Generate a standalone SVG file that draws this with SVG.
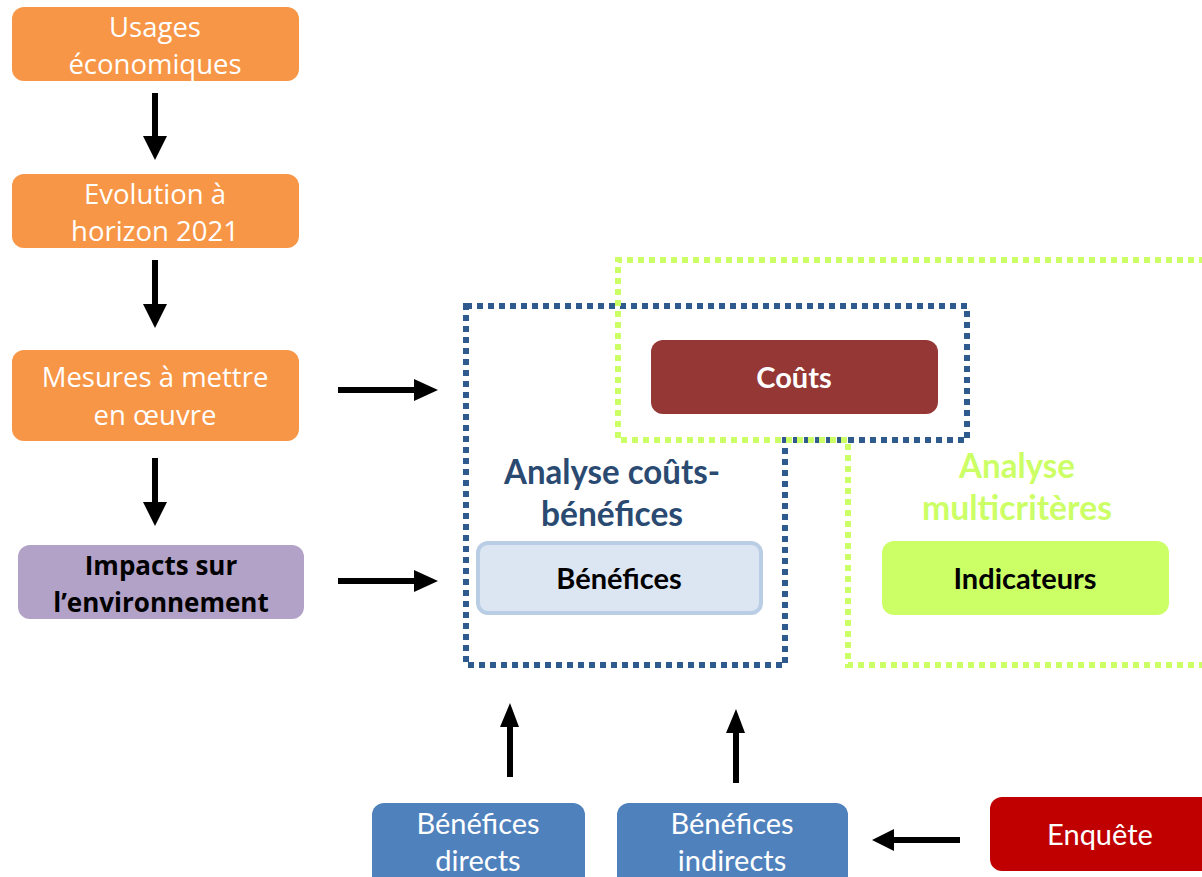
<svg xmlns="http://www.w3.org/2000/svg" width="1202" height="877" viewBox="0 0 1202 877">
<style>
.os{font-family:"Open Sans","Liberation Sans",sans-serif;font-size:27.5px;fill:#fff;text-anchor:middle}
.cb{font-family:Lato,"Liberation Sans",sans-serif;font-size:29px;text-anchor:middle}
.h{font-size:34px;font-weight:bold}
.b{font-weight:bold}
.orange{fill:#F79646}
.blue{fill:#4F81BD}
</style>
<rect width="1202" height="877" fill="#fff"/>
<g id="frames" fill="none" stroke-width="6" stroke-dasharray="6 5">
<path id="acb-frame" d="M466 306 H967 V440 H785 V665 H466 Z" stroke="#2F5A8E"/>
<path id="amc-frame" d="M1205 260 H618 V440 H848 V665 H1205" stroke="#CCFF66"/>
</g>
<g id="n-usages"><rect class="orange" x="12" y="7" width="287" height="74" rx="12"/><text class="os" x="155" y="37">Usages</text><text class="os" x="155" y="74">économiques</text></g>
<g id="n-evolution"><rect class="orange" x="12" y="174" width="287" height="74" rx="12"/><text class="os" x="155" y="204">Evolution à</text><text class="os" x="155" y="241">horizon 2021</text></g>
<g id="n-mesures"><rect class="orange" x="12" y="350" width="287" height="91" rx="12"/><text class="os" x="155" y="387">Mesures à mettre</text><text class="os" x="155" y="425">en œuvre</text></g>
<g id="n-impacts"><rect fill="#B2A2C7" x="18" y="545" width="286" height="74" rx="12"/><text class="os b" x="161" y="575" style="fill:#000;font-size:26px">Impacts sur</text><text class="os b" x="161" y="612" style="fill:#000;font-size:26px">l’environnement</text></g>
<g id="n-couts"><rect fill="#953735" x="651" y="340" width="287" height="74" rx="12"/><text class="cb b" x="794" y="388" fill="#fff">Coûts</text></g>
<g id="n-acb"><text class="cb h" x="612" y="484" fill="#2A4A72" textLength="216" lengthAdjust="spacingAndGlyphs">Analyse coûts-</text><text class="cb h" x="612" y="526" fill="#2A4A72" textLength="142" lengthAdjust="spacingAndGlyphs">bénéfices</text></g>
<g id="n-benefices"><rect fill="#DCE6F2" stroke="#B9CDE5" stroke-width="4" x="478" y="543" width="283" height="70" rx="10"/><text class="cb b" x="619" y="589" fill="#000">Bénéfices</text></g>
<g id="n-amc"><text class="cb h" x="1017" y="478" fill="#CCFF66" textLength="116" lengthAdjust="spacingAndGlyphs">Analyse</text><text class="cb h" x="1017" y="520" fill="#CCFF66" textLength="190" lengthAdjust="spacingAndGlyphs">multicritères</text></g>
<g id="n-indicateurs"><rect fill="#CCFF66" x="882" y="541" width="287" height="74" rx="12"/><text class="cb b" x="1025" y="589" fill="#000">Indicateurs</text></g>
<g id="n-bdirects"><rect class="blue" x="372" y="803" width="213" height="85" rx="12"/><text class="cb" x="478" y="834" fill="#fff">Bénéfices</text><text class="cb" x="478" y="871" fill="#fff">directs</text></g>
<g id="n-bindirects"><rect class="blue" x="617" y="803" width="231" height="85" rx="12"/><text class="cb" x="732" y="834" fill="#fff">Bénéfices</text><text class="cb" x="732" y="871" fill="#fff">indirects</text></g>
<g id="n-enquete"><rect fill="#C00000" x="990" y="797" width="225" height="74" rx="12"/><text class="cb" x="1100" y="845" fill="#fff">Enquête</text></g>
<g id="connectors" fill="#000">
<path d="M152 93 H158 V136 H167 L155 160 L143 136 H152 Z"/>
<path d="M152 260 H158 V304 H167 L155 328 L143 304 H152 Z"/>
<path d="M152 458 H158 V502 H167 L155 526 L143 502 H152 Z"/>
<path d="M338 387 H414 V379 L438 390 L414 401 V393 H338 Z"/>
<path d="M338 578 H414 V570 L438 581 L414 592 V584 H338 Z"/>
<path d="M507 777 V727 H500 L510 703 L519 727 H513 V777 Z"/>
<path d="M733 783 V733 H726 L736 709 L745 733 H739 V783 Z"/>
<path d="M960 837 H894 V829 L872 840 L894 851 V843 H960 Z"/>
</g>
</svg>
